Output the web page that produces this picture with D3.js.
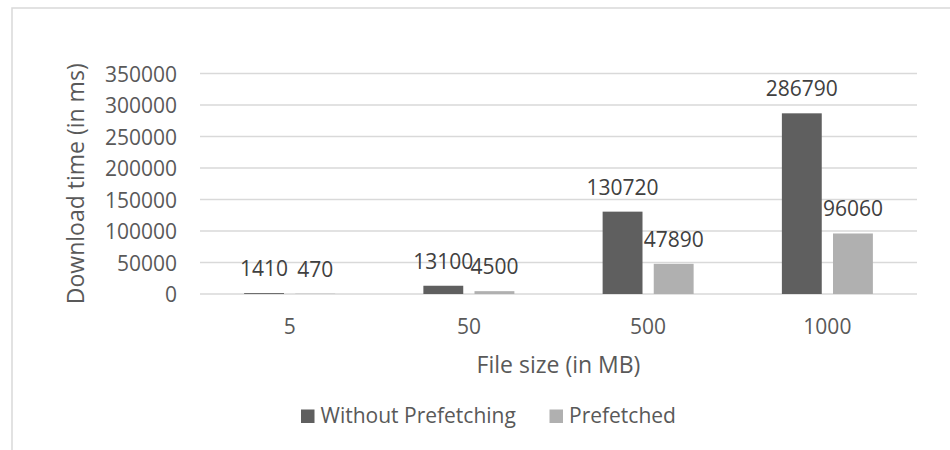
<!DOCTYPE html>
<html>
<head>
<meta charset="utf-8">
<script src="https://cdn.jsdelivr.net/npm/d3@7/dist/d3.min.js"></script>
<style>
  html, body { margin: 0; padding: 0; background: #fff; }
  svg { display: block; font-family: "Open Sans", sans-serif; }
</style>
</head>
<body>
<svg id="chart" width="950" height="450"></svg>
<script>
// Download time per file size, with and without prefetching
const categories = ["5", "50", "500", "1000"];
const seriesNames = ["Without Prefetching", "Prefetched"];
const withoutPrefetching = [1410, 13100, 130720, 286790];
const prefetched = [470, 4500, 47890, 96060];
const yTicks = [0, 50000, 100000, 150000, 200000, 250000, 300000, 350000];
const colors = ["#5f5f5f", "#b0b0b0"];

const svg = d3.select("#chart");
const textColor = "#595959";
const gridColor = "#d9d9d9";

// chart frame
svg.append("rect")
  .attr("x", 12).attr("y", 8)
  .attr("width", 960).attr("height", 460)
  .attr("fill", "none").attr("stroke", gridColor).attr("stroke-width", 1.5);

const plot = { left: 200, right: 917, top: 73.5, bottom: 294 };

const x = d3.scaleBand().domain(categories).range([plot.left, plot.right]).paddingInner(0).paddingOuter(0);
const y = d3.scaleLinear().domain([0, 350000]).range([plot.bottom, plot.top]);
const bw = x.bandwidth();
const sub = d3.scaleBand().domain(seriesNames).range([bw / 2 - 45.5, bw / 2 + 45.5]).paddingInner(0.22).paddingOuter(0);

// gridlines
svg.append("g").selectAll("line").data(yTicks).join("line")
  .attr("x1", plot.left).attr("x2", plot.right)
  .attr("y1", d => y(d)).attr("y2", d => y(d))
  .attr("stroke", gridColor).attr("stroke-width", 1.5);

// y axis tick labels
const yAxis = d3.axisLeft(y).tickValues(yTicks).tickSize(0).tickPadding(0).tickFormat(d3.format("d"));
const gy = svg.append("g").attr("transform", `translate(177,0)`).call(yAxis);
gy.select(".domain").remove();
gy.selectAll("text").attr("fill", textColor).attr("font-size", 21)
  .attr("font-family", "Open Sans, sans-serif").attr("dy", "0.36em");

// x axis tick labels
const xAxis = d3.axisBottom(x).tickSize(0).tickPadding(0);
const gx = svg.append("g").attr("transform", `translate(0,${plot.bottom})`).call(xAxis);
gx.select(".domain").remove();
gx.selectAll("text").attr("fill", textColor).attr("font-size", 21)
  .attr("font-family", "Open Sans, sans-serif").attr("dy", null).attr("y", 40);

// bars
const rows = categories.map((c, i) => ({ cat: c, vals: [withoutPrefetching[i], prefetched[i]] }));
const groups = svg.append("g").selectAll("g").data(rows).join("g")
  .attr("transform", d => `translate(${x(d.cat)},0)`);

groups.selectAll("rect").data(d => d.vals.map((v, j) => ({ name: seriesNames[j], v, j }))).join("rect")
  .attr("x", d => sub(d.name))
  .attr("width", sub.bandwidth())
  .attr("y", d => y(d.v))
  .attr("height", d => y(0) - y(d.v))
  .attr("fill", d => colors[d.j]);

// data labels
groups.selectAll("text.lbl").data(d => d.vals.map((v, j) => ({ name: seriesNames[j], v, j }))).join("text")
  .attr("class", "lbl")
  .attr("x", d => sub(d.name) + sub.bandwidth() / 2)
  .attr("y", d => y(d.v) - 17)
  .attr("text-anchor", "middle")
  .attr("font-size", 21)
  .attr("fill", "#404040")
  .text(d => d.v);

// axis titles
svg.append("text")
  .attr("x", (plot.left + plot.right) / 2).attr("y", 373)
  .attr("text-anchor", "middle").attr("font-size", 23).attr("fill", textColor)
  .text("File size (in MB)");

svg.append("text")
  .attr("transform", `translate(84,${(plot.top + plot.bottom) / 2}) rotate(-90)`)
  .attr("text-anchor", "middle").attr("font-size", 23).attr("fill", textColor)
  .text("Download time (in ms)");

// legend
const legend = svg.append("g");
const items = [{ name: seriesNames[0], x: 301 }, { name: seriesNames[1], x: 549.5 }];
items.forEach((it, j) => {
  legend.append("rect").attr("x", it.x).attr("y", 409.5).attr("width", 13.5).attr("height", 13.5).attr("fill", colors[j]);
  legend.append("text").attr("x", it.x + 19.5).attr("y", 423)
    .attr("font-size", 21).attr("fill", textColor).text(it.name);
});
</script>
</body>
</html>
